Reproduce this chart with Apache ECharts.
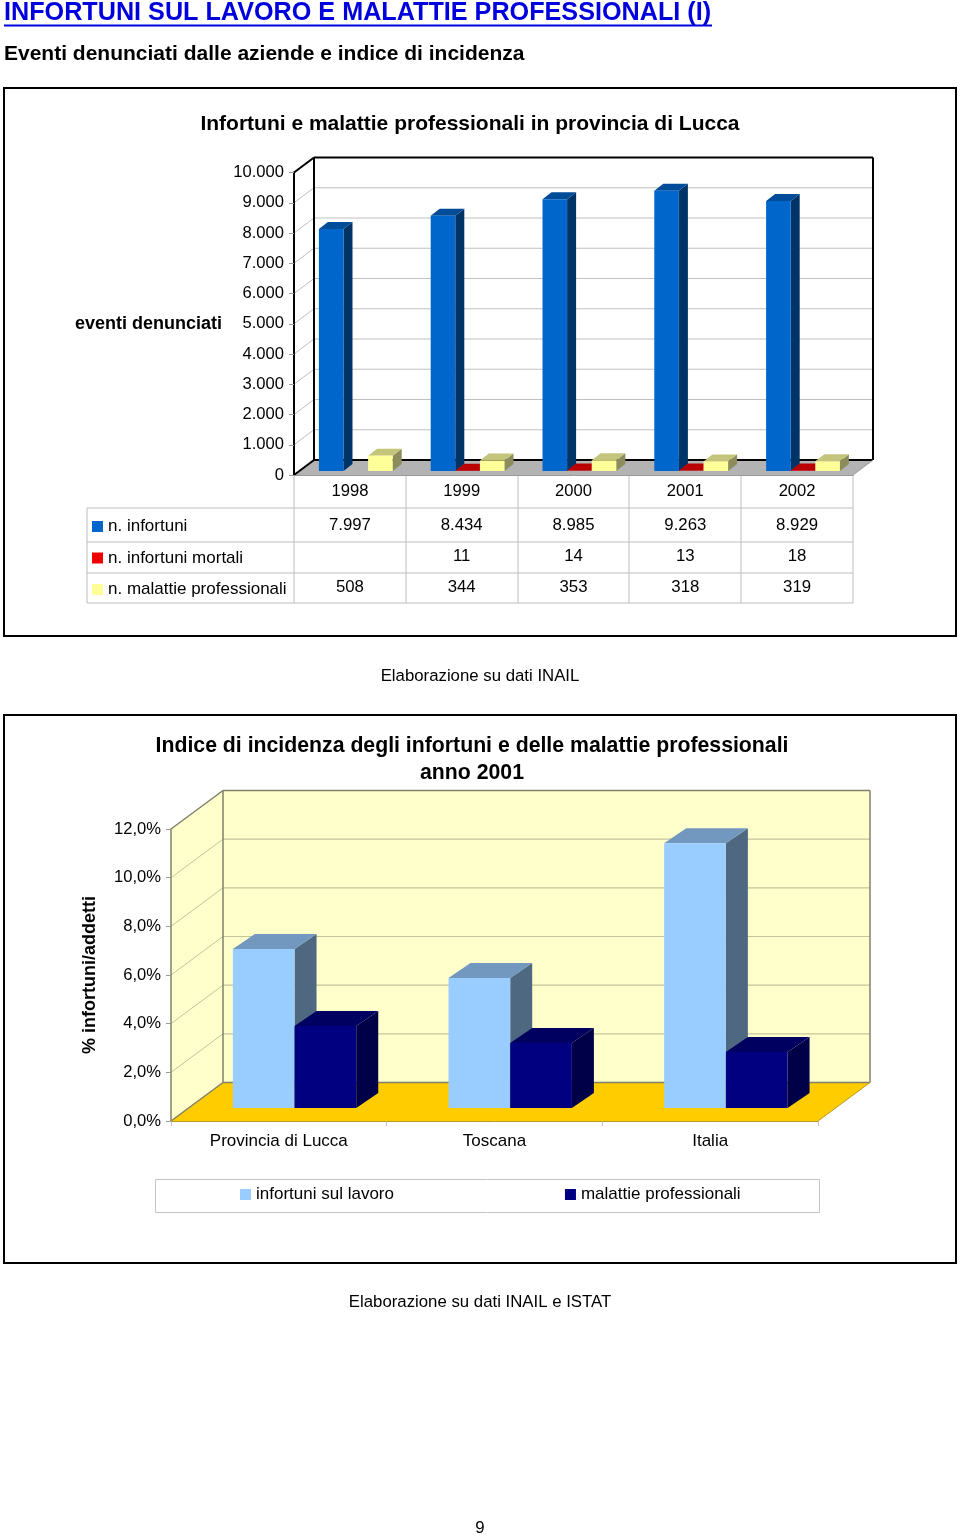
<!DOCTYPE html>
<html><head><meta charset="utf-8">
<style>html,body{margin:0;padding:0;background:#fff}#c{width:960px;height:1537px}</style>
<script src="https://cdn.jsdelivr.net/npm/echarts@6/dist/echarts.min.js"></script>
</head><body><div id="c"></div>
<script>
var years = ['1998','1999','2000','2001','2002'];
var infortuni = [7997,8434,8985,9263,8929];
var mortali = [null,11,14,13,18];
var malattie = [508,344,353,318,319];
var eventiTicks = [0,1000,2000,3000,4000,5000,6000,7000,8000,9000,10000];
var areas = ['Provincia di Lucca','Toscana','Italia'];
var indiceInfortuni = [6.53,5.34,10.88];
var indiceMalattie = [3.37,2.67,2.3];
var indiceTicks = [0,2,4,6,8,10,12];

var FONT = '"Liberation Sans", Arial, sans-serif';
var chart = echarts.init(document.getElementById('c'), null, {renderer:'canvas', width:960, height:1537});

function fmtThousand(v){ return String(v).replace(/\B(?=(\d{3})+$)/g,'.'); }
function poly(pts, fill, z){ return {type:'polygon', z2:z||0, shape:{points:pts}, style:{fill:fill, stroke:null}, silent:true}; }
function seg(x1,y1,x2,y2,col,w,z){ return {type:'line', z2:z||0, shape:{x1:x1,y1:y1,x2:x2,y2:y2}, style:{stroke:col,lineWidth:w||1}, silent:true}; }

// scene builder: back walls and floor for a fake-3D box
function wallSeries(gridIndex, ticks, cfg){
  return {
    type:'custom', name:'wall'+gridIndex, xAxisIndex:gridIndex, yAxisIndex:gridIndex, z:1, silent:true,
    data: ticks.map(function(t){ return [0,t]; }),
    encode:{x:0,y:1},
    renderItem:function(params, api){
      var cs = params.coordSys, dx=cfg.dx, dy=cfg.dy;
      var v = api.value(1), y = api.coord([0,v])[1];
      var x0 = cs.x, x1 = cs.x+cs.width, yT = cs.y, yB = cs.y+cs.height;
      var ch = [];
      if (params.dataIndex===0){
        ch.push(poly([[x0+dx,yT+dy],[x1+dx,yT+dy],[x1+dx,yB+dy],[x0+dx,yB+dy]], cfg.wall, 0));
        ch.push(poly([[x0,yT],[x0+dx,yT+dy],[x0+dx,yB+dy],[x0,yB]], cfg.side, 0));
        ch.push(poly([[x0,yB],[x0+dx,yB+dy],[x1+dx,yB+dy],[x1,yB]], cfg.floor, 0));
        ch.push(seg(x0+dx,yT+dy,x1+dx,yT+dy,cfg.edge,cfg.edgeW,3));
        ch.push(seg(x1+dx,yT+dy,x1+dx,yB+dy,cfg.edge,cfg.edgeW,3));
        ch.push(seg(x0+dx,yT+dy,x0+dx,yB+dy,cfg.edge,cfg.edgeW,3));
        ch.push(seg(x0,yT,x0+dx,yT+dy,cfg.edge,cfg.edgeW,3));
        ch.push(seg(x0+dx,yB+dy,x1+dx,yB+dy,cfg.edge,cfg.edgeW,3));
        ch.push(seg(x0,yB,x0+dx,yB+dy,cfg.edge,cfg.edgeW,3));
        ch.push(seg(x1,yB,x1+dx,yB+dy,cfg.floorEdge,1,3));
      } else if (v < ticks[ticks.length-1]){
        ch.push(seg(x0+dx,y+dy,x1+dx,y+dy,cfg.grid,cfg.gridW,1));
        ch.push(seg(x0,y,x0+dx,y+dy,cfg.grid,1,1));
      }
      return {type:'group', children:ch};
    }
  };
}
// one bar series drawn as front, top and side faces from the axis scale
function barSeries(name, gridIndex, vals, k, cfg, col){
  return {
    type:'custom', name:name, xAxisIndex:gridIndex, yAxisIndex:gridIndex, z:3+k,
    itemStyle:{color:col.front}, silent:true,
    data: vals.map(function(v,i){ return [i,v]; }),
    encode:{x:0,y:1},
    renderItem:function(params, api){
      if (api.value(1)==null || isNaN(api.value(1))) return null;
      var c = api.coord([api.value(0),api.value(1)]);
      var b = api.coord([api.value(0),0]);
      var w = cfg.barW;
      var l = c[0]+cfg.offX+k*w, r = l+w, t = c[1]-cfg.rise, bt = b[1]-cfg.rise;
      var ddx = cfg.bdx, ddy = cfg.bdy;
      return {type:'group', children:[
        poly([[r,t],[r+ddx,t+ddy],[r+ddx,bt+ddy],[r,bt]], col.side),
        poly([[l,t],[r,t],[r+ddx,t+ddy],[l+ddx,t+ddy]], col.top),
        poly([[l,t],[r,t],[r,bt],[l,bt]], col.front)
      ]};
    }
  };
}
// data table under the first chart, columns follow the category axis
var rowY = [525,556,587.5];
function tableSeries(){
  var rows = [infortuni, mortali, malattie];
  var data = [];
  rows.forEach(function(r,ri){ r.forEach(function(v,i){ if(v!=null) data.push([i,v,ri]); }); });
  return {
    type:'custom', name:'table', xAxisIndex:0, yAxisIndex:0, z:6, silent:true,
    data:data, encode:{x:0,y:1},
    renderItem:function(params, api){
      var x = api.coord([api.value(0),0])[0];
      return {type:'text', style:{x:x,y:rowY[api.value(2)],text:fmtThousand(api.value(1)),
        font:'16.8px '+FONT,fill:'#000',textAlign:'center',textVerticalAlign:'middle'}};
    }
  };
}
var cfg1 = {dx:20,dy:-15,wall:'#ffffff',side:'#ffffff',floor:'#b3b3b3',edge:'#000000',edgeW:2,floorEdge:'#999999',grid:'#c0c0c0',gridW:1.2,
  barW:24.6,offX:-31,rise:4,bdx:9,bdy:-7};
var cfg2 = {dx:52,dy:-38.5,wall:'#ffffcc',side:'#ffffcc',floor:'#ffcc00',edge:'#80806a',edgeW:1.5,floorEdge:'#b89a20',grid:'#c4c49c',gridW:1.2,
  barW:61.7,offX:-46,rise:13,bdx:22,bdy:-15};

var lineCol='#bdbdbd';
var g=[];
function gLine(x1,y1,x2,y2,c,w){ g.push({type:'line',z:0,silent:true,shape:{x1:x1,y1:y1,x2:x2,y2:y2},style:{stroke:c,lineWidth:w}}); }
function gText(x,y,t,font,fill,align){ g.push({type:'text',z:5,silent:true,style:{x:x,y:y,text:t,font:font,fill:fill,textAlign:align||'center',textVerticalAlign:'middle'}}); }
// frames
g.push({type:'rect',z:0,silent:true,shape:{x:4,y:88,width:952,height:548},style:{fill:'none',stroke:'#000',lineWidth:2}});
g.push({type:'rect',z:0,silent:true,shape:{x:4,y:715,width:952,height:548},style:{fill:'none',stroke:'#000',lineWidth:2}});
// heading underline
gLine(4,25.5,712,25.5,'#0000dd',2);
// table grid
[508,542,573,603].forEach(function(y,i){ gLine(87,y,853,y,lineCol,1); });
[294,406,518,629,741,853].forEach(function(x){ gLine(x,475,x,603,lineCol,1); });
gLine(87,508,87,603,lineCol,1);
// legend frame
g.push({type:'rect',z:0,silent:true,shape:{x:155.5,y:1179.5,width:664,height:33},style:{fill:'#fff',stroke:'#c4c4c4',lineWidth:1}});
gText(480,676,'Elaborazione su dati INAIL','16.8px '+FONT,'#000');
gText(480,1302,'Elaborazione su dati INAIL e ISTAT','16.8px '+FONT,'#000');
gText(480,1528,'9','16.8px '+FONT,'#000');

var axisText={color:'#000',fontFamily:FONT,fontSize:16.6};
var option={
  animation:false, backgroundColor:'#fff',
  title:[
    {text:'INFORTUNI SUL LAVORO E MALATTIE PROFESSIONALI (I)',left:4,top:1,padding:0,textStyle:{color:'#0000dd',fontFamily:FONT,fontWeight:'bold',fontSize:25.2}},
    {text:'Eventi denunciati dalle aziende e indice di incidenza',left:4,top:44,padding:0,textStyle:{color:'#000',fontFamily:FONT,fontWeight:'bold',fontSize:21}},
    {text:'Infortuni e malattie professionali in provincia di Lucca',left:470,top:114,padding:0,textAlign:'center',textStyle:{color:'#000',fontFamily:FONT,fontWeight:'bold',fontSize:21}},
    {text:'Indice di incidenza degli infortuni e delle malattie professionali\nanno 2001',left:472,top:733,padding:0,textAlign:'center',textStyle:{color:'#000',fontFamily:FONT,fontWeight:'bold',fontSize:21.25,lineHeight:27}}
  ],
  legend:[
    {orient:'vertical',left:92,top:518,padding:0,itemWidth:11,itemHeight:11,itemGap:14.5,icon:'rect',selectedMode:false,
     textStyle:{color:'#000',fontFamily:FONT,fontSize:17},
     data:[{name:'n. infortuni',itemStyle:{color:'#0066cc'}},{name:'n. infortuni mortali',itemStyle:{color:'#ee0000'}},{name:'n. malattie professionali',itemStyle:{color:'#ffff99'}}]},
    {orient:'horizontal',left:240,top:1186,padding:0,itemWidth:11,itemHeight:11,itemGap:171,icon:'rect',selectedMode:false,
     textStyle:{color:'#000',fontFamily:FONT,fontSize:17},
     data:[{name:'infortuni sul lavoro',itemStyle:{color:'#99ccff'}},{name:'malattie professionali',itemStyle:{color:'#000080'}}]}
  ],
  grid:[
    {left:294,top:172.5,width:559,height:302.5,containLabel:false},
    {left:171,top:829,width:647,height:292,containLabel:false}
  ],
  xAxis:[
    {type:'category',gridIndex:0,data:years,z:10,axisLine:{lineStyle:{color:'#9a9a9a',width:1}},axisTick:{show:false},splitLine:{show:false},
     axisLabel:Object.assign({margin:8},axisText)},
    {type:'category',gridIndex:1,data:areas,z:10,axisLine:{lineStyle:{color:'#b89a20',width:1}},axisTick:{show:true,length:5,lineStyle:{color:'#c0c0c0'}},splitLine:{show:false},
     axisLabel:Object.assign({margin:12},axisText,{fontSize:17})}
  ],
  yAxis:[
    {type:'value',gridIndex:0,min:0,max:10000,interval:1000,z:10,name:'eventi denunciati',nameLocation:'middle',nameRotate:0,nameGap:72,
     nameTextStyle:{color:'#000',fontFamily:FONT,fontSize:18,fontWeight:'bold'},
     axisLine:{show:true,lineStyle:{color:'#000',width:2}},axisTick:{show:true,length:5,lineStyle:{color:'#9a9a9a'}},splitLine:{show:false},
     axisLabel:Object.assign({margin:10,formatter:function(v){return fmtThousand(v);}},axisText)},
    {type:'value',gridIndex:1,min:0,max:12,interval:2,z:10,name:'% infortuni/addetti',nameLocation:'middle',nameRotate:90,nameGap:72,
     nameTextStyle:{color:'#000',fontFamily:FONT,fontSize:18,fontWeight:'bold'},
     axisLine:{show:true,lineStyle:{color:'#80806a',width:1.5}},axisTick:{show:true,length:5,lineStyle:{color:'#9a9a9a'}},splitLine:{show:false},
     axisLabel:Object.assign({margin:10,formatter:function(v){return v.toFixed(1).replace('.',',')+'%';}},axisText)}
  ],
  series:[
    wallSeries(0,eventiTicks,cfg1),
    barSeries('n. infortuni',0,infortuni,0,cfg1,{front:'#0066cc',top:'#004c99',side:'#003366'}),
    barSeries('n. infortuni mortali',0,mortali,1,cfg1,{front:'#cc0000',top:'#bb0000',side:'#660000'}),
    barSeries('n. malattie professionali',0,malattie,2,cfg1,{front:'#ffff99',top:'#c4c47a',side:'#8c8c5c'}),
    tableSeries(),
    wallSeries(1,indiceTicks,cfg2),
    barSeries('infortuni sul lavoro',1,indiceInfortuni,0,cfg2,{front:'#99ccff',top:'#7298bf',side:'#4f6882'}),
    barSeries('malattie professionali',1,indiceMalattie,1,cfg2,{front:'#000080',top:'#000060',side:'#000048'})
  ],
  graphic:{elements:g}
};
chart.setOption(option);
</script></body></html>
